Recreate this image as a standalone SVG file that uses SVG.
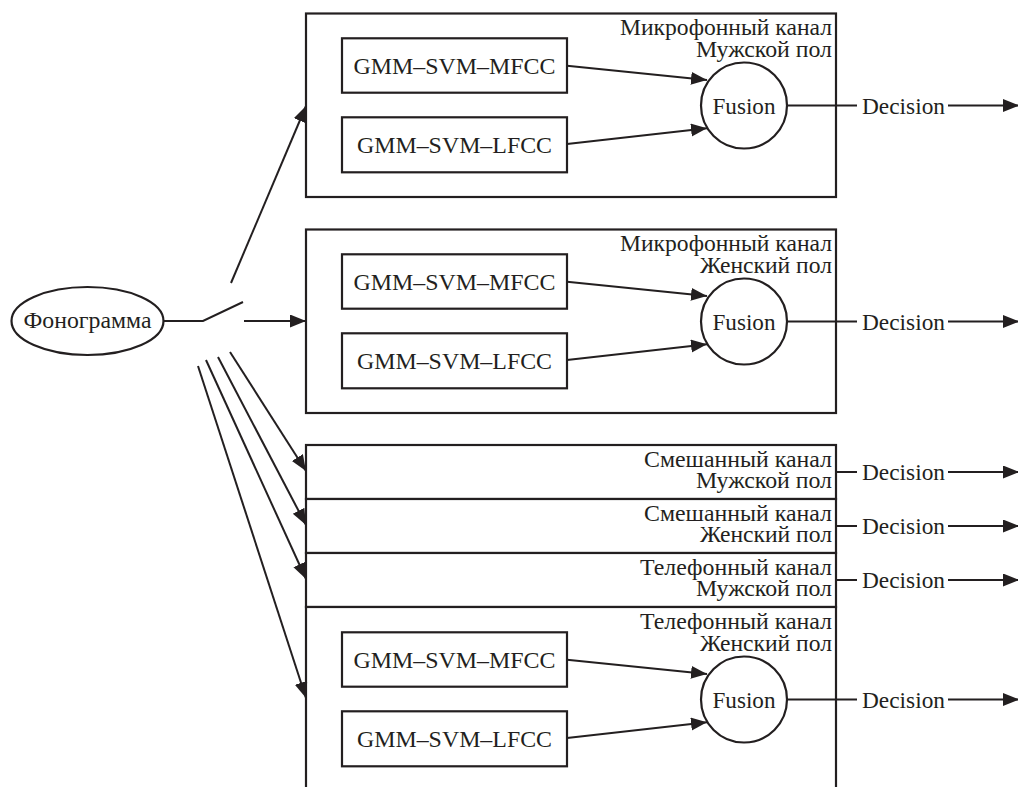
<svg xmlns="http://www.w3.org/2000/svg" width="1018" height="787" viewBox="0 0 1018 787">
<style>
  .ln { stroke:#231f20; stroke-width:2; fill:none; }
  .bx { stroke:#231f20; stroke-width:2.2; fill:#fff; }
  text { font-family:'Liberation Serif','Times New Roman',serif; font-size:23px; fill:#231f20; }
  .c { text-anchor:middle; }
  .r { text-anchor:end; }
  .arr { marker-end:url(#ah); }
</style>
<defs>
  <marker id="ah" markerUnits="userSpaceOnUse" markerWidth="18" markerHeight="14" refX="16" refY="6.5" orient="auto">
    <path d="M0,0 L16,6.5 L0,13 z" fill="#231f20"/>
  </marker>
</defs>
<rect width="1018" height="787" fill="#fff"/>

<g id="source">
  <ellipse class="bx" cx="87.5" cy="321" rx="76" ry="34"/>
  <text class="c" x="87.5" y="328" textLength="128" lengthAdjust="spacingAndGlyphs">Фонограмма</text>
</g>

<g id="box-mic-male">
  <rect class="bx" x="306" y="13.5" width="530" height="183.5"/>
  <text class="r" x="832" y="35" textLength="212" lengthAdjust="spacingAndGlyphs">Микрофонный канал</text>
  <text class="r" x="832" y="56.7" textLength="136" lengthAdjust="spacingAndGlyphs">Мужской пол</text>
  <rect class="bx" x="342" y="38.3" width="225" height="54.4"/>
  <text class="c" x="454.5" y="73.5" textLength="202" lengthAdjust="spacingAndGlyphs">GMM–SVM–MFCC</text>
  <rect class="bx" x="342" y="117.3" width="225" height="55"/>
  <text class="c" x="454.5" y="152.7" textLength="195" lengthAdjust="spacingAndGlyphs">GMM–SVM–LFCC</text>
  <circle class="bx" cx="744" cy="105.5" r="43"/>
  <text class="c" x="744" y="113.5" textLength="63" lengthAdjust="spacingAndGlyphs">Fusion</text>
  <text x="862" y="114" textLength="83" lengthAdjust="spacingAndGlyphs">Decision</text>
</g>

<g id="box-mic-female">
  <rect class="bx" x="306" y="229.5" width="530" height="183.5"/>
  <text class="r" x="832" y="251" textLength="212" lengthAdjust="spacingAndGlyphs">Микрофонный канал</text>
  <text class="r" x="832" y="272.7" textLength="132" lengthAdjust="spacingAndGlyphs">Женский пол</text>
  <rect class="bx" x="342" y="254.3" width="225" height="54.4"/>
  <text class="c" x="454.5" y="289.5" textLength="202" lengthAdjust="spacingAndGlyphs">GMM–SVM–MFCC</text>
  <rect class="bx" x="342" y="333.3" width="225" height="55"/>
  <text class="c" x="454.5" y="368.7" textLength="195" lengthAdjust="spacingAndGlyphs">GMM–SVM–LFCC</text>
  <circle class="bx" cx="744" cy="321.5" r="43"/>
  <text class="c" x="744" y="329.5" textLength="63" lengthAdjust="spacingAndGlyphs">Fusion</text>
  <text x="862" y="330" textLength="83" lengthAdjust="spacingAndGlyphs">Decision</text>
</g>

<g id="box-mix-male">
  <rect class="bx" x="306" y="445" width="530" height="54"/>
  <text class="r" x="832" y="467" textLength="188" lengthAdjust="spacingAndGlyphs">Смешанный канал</text>
  <text class="r" x="832" y="488" textLength="136" lengthAdjust="spacingAndGlyphs">Мужской пол</text>
  <text x="862" y="480" textLength="83" lengthAdjust="spacingAndGlyphs">Decision</text>
</g>

<g id="box-mix-female">
  <rect class="bx" x="306" y="499" width="530" height="54"/>
  <text class="r" x="832" y="521" textLength="188" lengthAdjust="spacingAndGlyphs">Смешанный канал</text>
  <text class="r" x="832" y="542" textLength="132" lengthAdjust="spacingAndGlyphs">Женский пол</text>
  <text x="862" y="534" textLength="83" lengthAdjust="spacingAndGlyphs">Decision</text>
</g>

<g id="box-tel-male">
  <rect class="bx" x="306" y="553" width="530" height="54"/>
  <text class="r" x="832" y="575" textLength="192" lengthAdjust="spacingAndGlyphs">Телефонный канал</text>
  <text class="r" x="832" y="596" textLength="136" lengthAdjust="spacingAndGlyphs">Мужской пол</text>
  <text x="862" y="588" textLength="83" lengthAdjust="spacingAndGlyphs">Decision</text>
</g>

<g id="box-tel-female">
  <rect class="bx" x="306" y="607" width="530" height="200"/>
  <text class="r" x="832" y="629" textLength="192" lengthAdjust="spacingAndGlyphs">Телефонный канал</text>
  <text class="r" x="832" y="650.7" textLength="132" lengthAdjust="spacingAndGlyphs">Женский пол</text>
  <rect class="bx" x="342" y="632.3" width="225" height="54.4"/>
  <text class="c" x="454.5" y="667.5" textLength="202" lengthAdjust="spacingAndGlyphs">GMM–SVM–MFCC</text>
  <rect class="bx" x="342" y="711.3" width="225" height="55"/>
  <text class="c" x="454.5" y="746.7" textLength="195" lengthAdjust="spacingAndGlyphs">GMM–SVM–LFCC</text>
  <circle class="bx" cx="744" cy="699.5" r="43"/>
  <text class="c" x="744" y="707.5" textLength="63" lengthAdjust="spacingAndGlyphs">Fusion</text>
  <text x="862" y="707.5" textLength="83" lengthAdjust="spacingAndGlyphs">Decision</text>
</g>

<g id="connectors">
  <polyline class="ln" points="163.5,321 203,321 243,302"/>
  <line class="ln arr" x1="231" y1="283" x2="306" y2="106"/>
  <line class="ln arr" x1="244" y1="321" x2="306" y2="321"/>
  <line class="ln arr" x1="230" y1="352" x2="306" y2="471"/>
  <line class="ln arr" x1="218" y1="357" x2="306" y2="525"/>
  <line class="ln arr" x1="206" y1="360" x2="306" y2="579"/>
  <line class="ln arr" x1="198" y1="366" x2="306" y2="698"/>

  <line class="ln arr" x1="567" y1="65.7" x2="707" y2="80"/>
  <line class="ln arr" x1="567" y1="144" x2="707" y2="128.3"/>
  <line class="ln" x1="787" y1="105.5" x2="857" y2="105.5"/>
  <line class="ln arr" x1="948" y1="105.5" x2="1019" y2="105.5"/>

  <line class="ln arr" x1="567" y1="281.7" x2="707" y2="296"/>
  <line class="ln arr" x1="567" y1="360" x2="707" y2="344.3"/>
  <line class="ln" x1="787" y1="321.5" x2="857" y2="321.5"/>
  <line class="ln arr" x1="948" y1="321.5" x2="1019" y2="321.5"/>

  <line class="ln" x1="836" y1="472" x2="857" y2="472"/>
  <line class="ln arr" x1="948" y1="472" x2="1019" y2="472"/>
  <line class="ln" x1="836" y1="526" x2="857" y2="526"/>
  <line class="ln arr" x1="948" y1="526" x2="1019" y2="526"/>
  <line class="ln" x1="836" y1="580" x2="857" y2="580"/>
  <line class="ln arr" x1="948" y1="580" x2="1019" y2="580"/>

  <line class="ln arr" x1="567" y1="659.7" x2="707" y2="674"/>
  <line class="ln arr" x1="567" y1="738" x2="707" y2="722.3"/>
  <line class="ln" x1="787" y1="699.5" x2="857" y2="699.5"/>
  <line class="ln arr" x1="948" y1="699.5" x2="1019" y2="699.5"/>
</g>
</svg>
